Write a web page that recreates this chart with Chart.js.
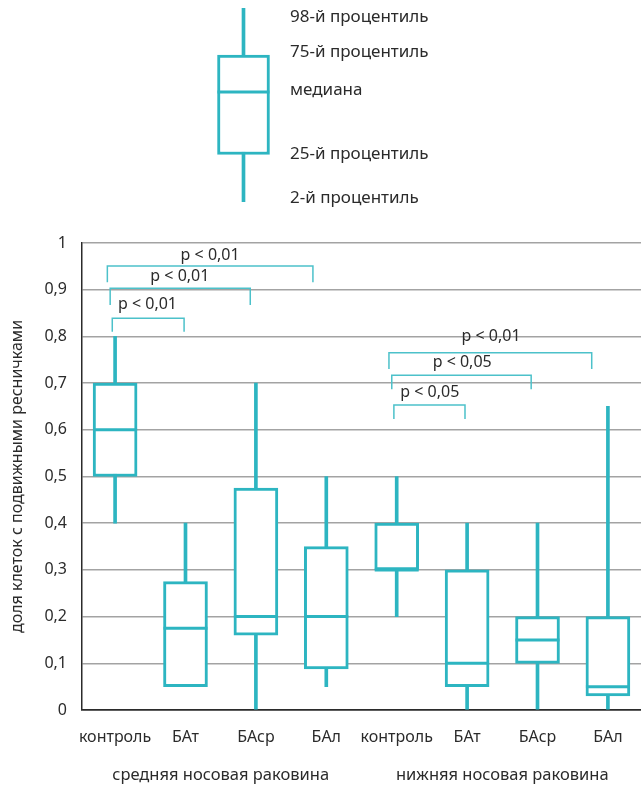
<!DOCTYPE html>
<html lang="ru">
<head>
  <meta charset="UTF-8">
  <title>Доля клеток с подвижными ресничками</title>
  <style>
    body {
      margin: 0;
      background: #fff;
    }
    .wrap {
      position: relative;
      width: 641px;
      height: 785px;
    }
    canvas {
      position: absolute;
      left: 0;
      top: 0;
    }
  </style>
  <script src="https://cdn.jsdelivr.net/npm/chart.js"></script>
</head>
<body>
  <div class="wrap">
    <canvas id="mainChart" width="641" height="785"></canvas>
    <canvas id="keyChart" width="641" height="215"></canvas>
  </div>

  <script>
    // categories and groups
    const categories = ['контроль', 'БАт', 'БАср', 'БАл', 'контроль', 'БАт', 'БАср', 'БАл'];
    const groups = ['средняя носовая раковина', 'нижняя носовая раковина'];
    const groupCenters = [1.5, 5.5];

    // box plot values (2nd, 25th, median, 75th, 98th percentile)
    const p2 = [0.4, 0.05, 0, 0.05, 0.2, 0, 0, 0];
    const p25 = [0.5, 0.05, 0.16, 0.088, 0.3, 0.05, 0.1, 0.03];
    const median = [0.6, 0.175, 0.2, 0.2, 0.3, 0.1, 0.15, 0.05];
    const p75 = [0.7, 0.275, 0.475, 0.35, 0.4, 0.3, 0.2, 0.2];
    const p98 = [0.8, 0.4, 0.7, 0.5, 0.5, 0.4, 0.4, 0.65];

    // y axis ticks
    const yTicks = [0, 0.1, 0.2, 0.3, 0.4, 0.5, 0.6, 0.7, 0.8, 0.9, 1];
    const yTickLabels = ['0', '0,1', '0,2', '0,3', '0,4', '0,5', '0,6', '0,7', '0,8', '0,9', '1'];

    // significance brackets
    const bracketText = ['p < 0,01', 'p < 0,01', 'p < 0,01', 'p < 0,01', 'p < 0,05', 'p < 0,05'];
    const bracketFrom = [-0.11, -0.07, -0.04, 3.89, 3.93, 3.96];
    const bracketTo = [2.81, 1.92, 0.98, 6.77, 5.91, 4.97];
    const bracketTop = [0.951, 0.903, 0.839, 0.765, 0.717, 0.653];
    const bracketEnd = [0.916, 0.867, 0.81, 0.73, 0.687, 0.623];
    const textX = [1.35, 0.92, 0.46, 5.34, 4.93, 4.47];
    const textY = [0.974, 0.929, 0.869, 0.799, 0.745, 0.679];

    // key (legend) box, in percentile units
    const keyValues = [2, 25.5, 56.4, 74.7, 98];
    const keyTickValues = [93.5, 76, 57.4, 25.8, 4.1];
    const keyLabels = ['98-й процентиль', '75-й процентиль', 'медиана', '25-й процентиль', '2-й процентиль'];

    const teal = '#2db5c1';
    const bracketTeal = '#4cc1ca';
    const textColor = '#2b2b2b';

    Chart.defaults.font.family = '"Noto Sans", sans-serif';
    Chart.defaults.font.size = 16;
    Chart.defaults.color = textColor;

    const xs = categories.map((_, i) => i);

    // no extra room for overflowing tick labels
    const noPad = s => {
      s.paddingLeft = 0;
      s.paddingRight = 0;
      s.paddingTop = 0;
      s.paddingBottom = 0;
    };

    const bracketSets = bracketText.map((t, i) => ({
      type: 'line',
      data: [
        { x: bracketFrom[i], y: bracketEnd[i] },
        { x: bracketFrom[i], y: bracketTop[i] },
        { x: bracketTo[i], y: bracketTop[i] },
        { x: bracketTo[i], y: bracketEnd[i] }
      ],
      borderColor: bracketTeal,
      borderWidth: 1.5,
      pointRadius: 0,
      fill: false,
      tension: 0,
      order: 0
    }));

    // p-value labels above the brackets
    const bracketLabels = {
      id: 'bracketLabels',
      afterDatasetsDraw(chart) {
        const { ctx, scales: { x, y } } = chart;
        ctx.save();
        ctx.font = '16px "Noto Sans", sans-serif';
        ctx.fillStyle = textColor;
        ctx.textAlign = 'center';
        ctx.textBaseline = 'middle';
        bracketText.forEach((t, i) => {
          ctx.fillText(t, x.getPixelForValue(textX[i]), y.getPixelForValue(textY[i]));
        });
        ctx.restore();
      }
    };

    new Chart(document.getElementById('mainChart'), {
      type: 'bar',
      data: {
        datasets: [
          {
            data: xs.map(i => ({ x: i, y: [p2[i], p98[i]] })),
            backgroundColor: teal,
            barThickness: 3,
            grouped: false,
            order: 3
          },
          {
            data: xs.map(i => ({ x: i, y: [p25[i], p75[i]] })),
            backgroundColor: '#fff',
            borderColor: teal,
            borderWidth: 3,
            borderSkipped: false,
            barThickness: 44,
            grouped: false,
            order: 2
          },
          {
            type: 'line',
            data: xs.map(i => ({ x: i, y: median[i] })),
            showLine: false,
            pointStyle: 'line',
            pointRadius: 22,
            pointHoverRadius: 22,
            borderColor: teal,
            pointBorderWidth: 3,
            order: 1
          },
          ...bracketSets
        ]
      },
      options: {
        responsive: false,
        animation: false,
        layout: { autoPadding: false, padding: { top: 243, left: 0, right: 0, bottom: 0 } },
        plugins: {
          legend: { display: false },
          tooltip: { enabled: false }
        },
        scales: {
          x: {
            type: 'linear',
            min: -0.47,
            max: 7.47,
            offset: false,
            weight: 0,
            grid: { display: false, drawTicks: false },
            border: { display: true, color: textColor, width: 1.5 },
            afterBuildTicks: s => { s.ticks = xs.map(v => ({ value: v })); },
            afterFit: s => { noPad(s); s.height = 44; },
            ticks: {
              autoSkip: false,
              maxRotation: 0,
              padding: 18,
              callback: (v, i) => categories[i]
            }
          },
          x2: {
            type: 'linear',
            position: 'bottom',
            min: -0.47,
            max: 7.47,
            offset: false,
            weight: 1,
            grid: { display: false, drawTicks: false },
            border: { display: false },
            afterBuildTicks: s => { s.ticks = groupCenters.map(v => ({ value: v })); },
            afterFit: s => { noPad(s); s.height = 31; },
            ticks: {
              autoSkip: false,
              maxRotation: 0,
              padding: 11,
              font: { size: 16.5 },
              callback: (v, i) => groups[i]
            }
          },
          y: {
            min: 0,
            max: 1,
            afterBuildTicks: s => { s.ticks = yTicks.map(v => ({ value: v })); },
            afterFit: s => { noPad(s); s.width = 82; },
            ticks: {
              padding: 15,
              callback: (v, i) => yTickLabels[i]
            },
            grid: {
              drawTicks: false,
              lineWidth: 1.5,
              color: c => (c.tick && c.tick.value === 0 ? textColor : '#a3a3a3')
            },
            border: { color: textColor, width: 1.5 },
            title: {
              display: true,
              text: 'доля клеток с подвижными ресничками',
              color: textColor,
              font: { size: 16 },
              padding: { top: 8, bottom: 0 }
            }
          }
        }
      },
      plugins: [bracketLabels]
    });

    // key box at the top
    new Chart(document.getElementById('keyChart'), {
      type: 'bar',
      data: {
        datasets: [
          {
            data: [{ x: 0, y: [keyValues[0], keyValues[4]] }],
            backgroundColor: teal,
            barThickness: 3,
            grouped: false,
            order: 3
          },
          {
            data: [{ x: 0, y: [keyValues[1], keyValues[3]] }],
            backgroundColor: '#fff',
            borderColor: teal,
            borderWidth: 3,
            borderSkipped: false,
            barThickness: 52,
            grouped: false,
            order: 2
          },
          {
            type: 'line',
            data: [{ x: 0, y: keyValues[2] }],
            showLine: false,
            pointStyle: 'line',
            pointRadius: 26,
            pointHoverRadius: 26,
            borderColor: teal,
            pointBorderWidth: 3,
            order: 1
          }
        ]
      },
      options: {
        responsive: false,
        animation: false,
        layout: { autoPadding: false, padding: { left: 207, top: 8, bottom: 13, right: 0 } },
        plugins: {
          legend: { display: false },
          tooltip: { enabled: false }
        },
        scales: {
          x: {
            type: 'linear',
            min: -1,
            max: 1,
            offset: false,
            display: false,
            afterFit: noPad
          },
          y: {
            position: 'right',
            min: 2,
            max: 98,
            grid: { display: false, drawTicks: false },
            border: { display: false },
            afterBuildTicks: s => { s.ticks = keyTickValues.map(v => ({ value: v })); },
            afterFit: s => { noPad(s); s.width = 361; },
            ticks: {
              padding: 10,
              font: { size: 17, lineHeight: 1 },
              callback: (v, i) => keyLabels[i]
            }
          }
        }
      }
    });
  </script>
</body>
</html>
